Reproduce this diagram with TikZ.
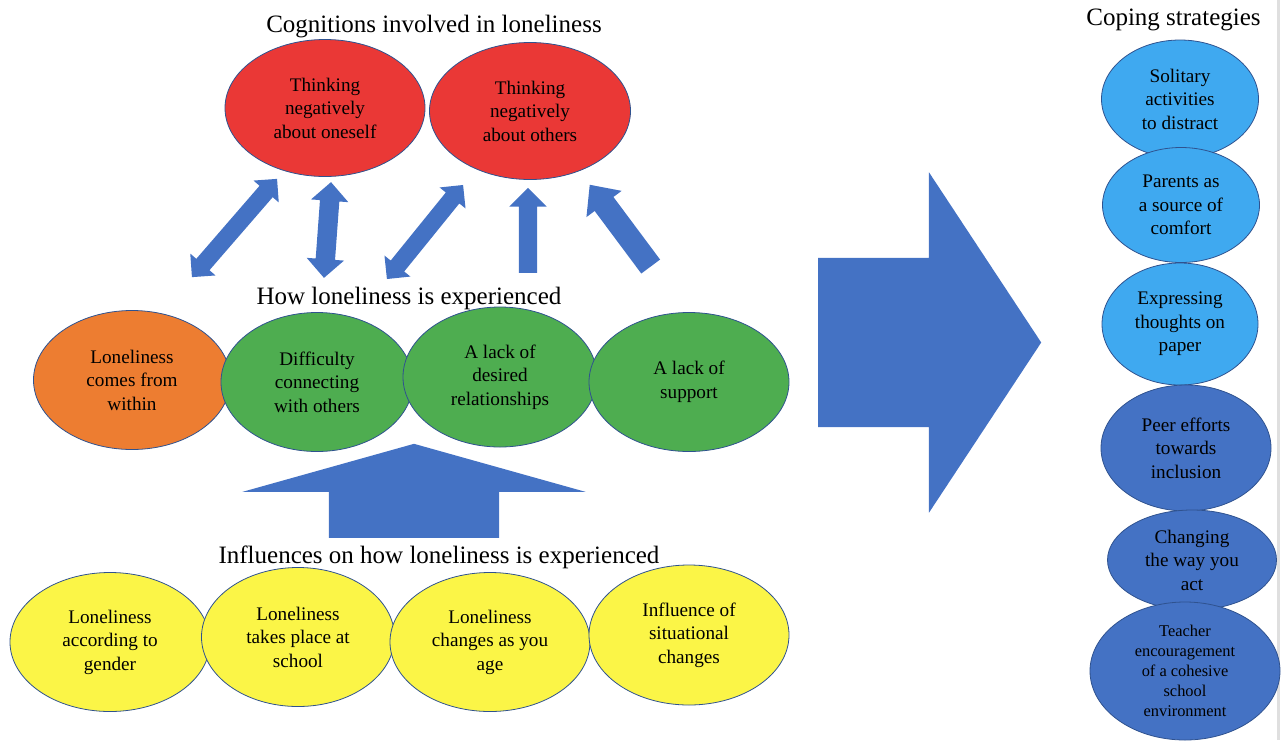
\documentclass[tikz,border=0pt]{standalone}
\usepackage{fontspec}
\setmainfont{Liberation Serif}
\usetikzlibrary{shapes.geometric,shapes.arrows}

\definecolor{rimblue}{HTML}{2F528F}
\definecolor{cogred}{HTML}{EA3836}
\definecolor{inorange}{HTML}{ED7D31}
\definecolor{expgreen}{HTML}{4EAD50}
\definecolor{infyellow}{HTML}{FBF547}
\definecolor{copelight}{HTML}{3FA9F0}
\definecolor{copedark}{HTML}{4472C4}
\definecolor{blockblue}{HTML}{4472C4}

\tikzset{
  blob/.style={ellipse, draw=rimblue, line width=0.8pt, inner sep=0pt, align=center,
    font=\fontsize{19.2}{23.5}\selectfont},
  heading/.style={anchor=base, font=\fontsize{25}{30}\selectfont},
  block/.style={fill=blockblue, draw=none, inner xsep=0pt, inner ysep=#1},
  block/.default=9pt,
}

\begin{document}
\begin{tikzpicture}[x=1pt,y=-1pt]

            \useasboundingbox (0,0) rectangle (1282,740);
            \fill[gray!25] (1277,0) rectangle (1280,740);

            % cognitions
            \node[heading] (cogtitle) at (434,32) {Cognitions involved in loneliness};
            \node[blob, fill=cogred, minimum width=200pt, minimum height=137pt] (self) at (325,108) {Thinking\\negatively\\about oneself};
            \node[blob, fill=cogred, minimum width=201pt, minimum height=137pt] (others) at (530,111) {Thinking\\negatively\\about others};

            % experience
            \node[heading] (exptitle) at (409,304) {How loneliness is experienced};
            \node[blob, fill=inorange, minimum width=197pt, minimum height=139pt] (within) at (132,380) {Loneliness\\comes from\\within};
            \node[blob, fill=expgreen, minimum width=192pt, minimum height=139pt] (connect) at (317,382) {Difficulty\\connecting\\with others};
            \node[blob, fill=expgreen, minimum width=194pt, minimum height=140pt] (desired) at (500,377) {A lack of\\desired\\relationships};
            \node[blob, fill=expgreen, minimum width=200pt, minimum height=139pt] (support) at (689,382) {A lack of\\support};

            % influences
            \node[heading] (inftitle) at (439,563) {Influences on how loneliness is experienced};
            \node[blob, fill=infyellow, minimum width=200pt, minimum height=139pt] (gender) at (110,642) {Loneliness\\according to\\gender};
            \node[blob, fill=infyellow, minimum width=193pt, minimum height=139pt] (school) at (298,637) {Loneliness\\takes place at\\school};
            \node[blob, fill=infyellow, minimum width=200pt, minimum height=139pt] (age) at (490,642) {Loneliness\\changes as you\\age};
            \node[blob, fill=infyellow, minimum width=200pt, minimum height=140pt] (situation) at (689,635) {Influence of\\situational\\changes};

            % coping
            \node[heading] (copetitle) at (1173.5,25) {Coping strategies};
            \node[blob, fill=copelight, minimum width=157pt, minimum height=118pt] (solitary) at (1180,99) {Solitary\\activities\\to distract};
            \node[blob, fill=copelight, minimum width=157pt, minimum height=115pt] (parents) at (1181,205) {Parents as\\a source of\\comfort};
            \node[blob, fill=copelight, minimum width=156pt, minimum height=122pt] (paper) at (1180,324) {Expressing\\thoughts on\\paper};
            \node[blob, fill=copedark, minimum width=170pt, minimum height=126pt] (peer) at (1186,448) {Peer efforts\\towards\\inclusion};
            \node[blob, fill=copedark, minimum width=169pt, minimum height=100pt] (act) at (1192,560) {Changing\\the way you\\act};
            \node[blob, fill=copedark, minimum width=190pt, minimum height=138pt, font=\fontsize{16.4}{20}\selectfont] (teacher) at (1185,671) {Teacher\\encouragement\\of a cohesive\\school\\environment};

            % block arrows
            \node[block=8.5pt, double arrow, rotate=49.1, minimum height=130pt, minimum width=33pt, double arrow head extend=8pt] (link1) at (234.5,228) {};
            \node[block=9.5pt, double arrow, rotate=85.8, minimum height=96pt, minimum width=37pt, double arrow head extend=9pt] (link2) at (327.5,230) {};
            \node[block=8.5pt, double arrow, rotate=51, minimum height=121pt, minimum width=33pt, double arrow head extend=8pt] (link3) at (425,232) {};
            \node[block=9pt, single arrow, rotate=90, anchor=tail, minimum height=85pt, minimum width=37pt, single arrow head extend=9.5pt] (push1) at (528,273) {};
            \node[block=11.5pt, single arrow, rotate=126.7, anchor=tail, minimum height=102pt, minimum width=43.5pt, single arrow head extend=10.25pt, single arrow tip angle=85] (push2) at (650.8,266.7) {};

            \node[block=85pt, single arrow, rotate=90, anchor=tail, minimum height=94pt, minimum width=343pt, single arrow head extend=86.5pt, single arrow tip angle=148.7] (rise) at (414,538) {};
            \node[block=84.5pt, single arrow, anchor=tail, minimum height=223pt, minimum width=340pt, single arrow head extend=85.5pt, single arrow tip angle=113.2] (toward) at (818,342.5) {};

        \end{tikzpicture}
\end{document}
